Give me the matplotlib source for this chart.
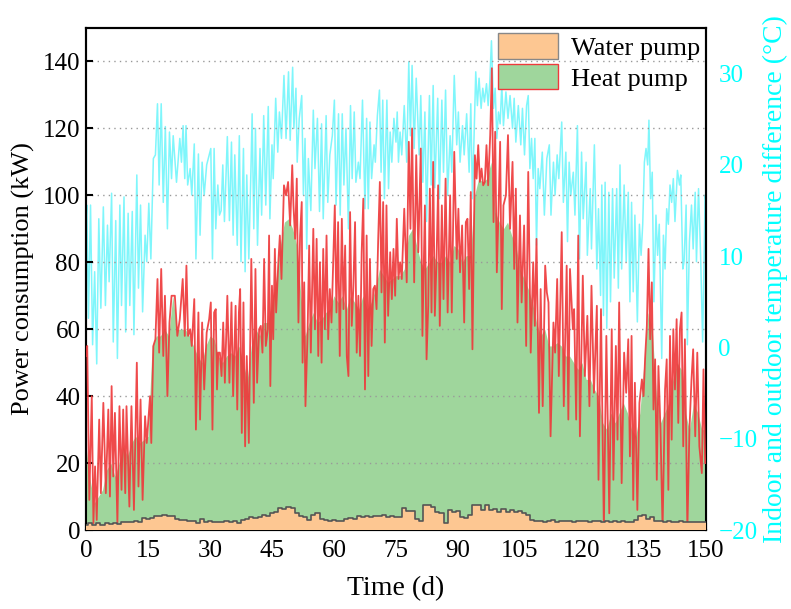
import matplotlib
matplotlib.use("Agg")
import matplotlib.pyplot as plt
import numpy as np
from matplotlib.patches import Patch

plt.rcParams['font.family'] = ['Liberation Serif', 'DejaVu Serif']
plt.rcParams['mathtext.fontset'] = 'stix'

# ---------------- data ----------------
# Heat pump power, line (day, kW)
hp_t = [0.0, 0.3, 0.8, 1.4, 1.8, 2.2, 2.6, 3.2, 3.6, 4.2, 4.8, 5.4, 5.8, 6.2, 6.6, 7.0, 7.6, 8.1, 8.6, 9.0,
        9.5, 9.8, 10.5, 11.0, 11.6, 12.3, 12.7, 13.2, 13.7, 14.3, 14.7, 15.5, 15.8, 16.3, 16.8, 17.3, 17.7, 18.2, 18.7, 19.1,
        19.7, 20.2, 20.7, 21.5, 22.1, 22.7, 23.4, 23.9, 24.3, 24.7, 25.2, 25.6, 26.2, 26.6, 27.2, 27.6, 28.1, 28.6, 29.2, 29.8,
        30.2, 30.6, 31.0, 31.4, 31.7, 32.0, 32.4, 32.8, 33.2, 33.6, 34.2, 34.7, 35.2, 35.6, 36.2, 36.6, 37.0, 37.3, 37.7, 38.1,
        38.5, 38.9, 39.4, 40.0, 40.6, 41.0, 41.4, 41.9, 42.3, 42.7, 43.1, 43.5, 44.0, 44.3, 44.6, 45.0, 45.3, 45.7, 46.0, 46.5,
        46.9, 47.3, 47.9, 48.4, 48.9, 49.4, 49.9, 50.2, 50.6, 51.0, 51.4, 51.8, 52.2, 52.4, 52.8, 53.1, 53.6, 54.0, 54.4, 55.0,
        55.4, 55.8, 56.2, 56.6, 57.0, 57.4, 57.8, 58.2, 58.6, 59.0, 59.4, 59.8, 60.2, 60.6, 61.0, 61.4, 61.9, 62.3, 62.7, 63.1,
        63.5, 63.9, 64.3, 64.7, 65.1, 65.5, 65.9, 66.3, 66.7, 67.1, 67.5, 67.9, 68.3, 68.7, 69.1, 69.5, 69.9, 70.3, 70.7, 71.1,
        71.5, 71.9, 72.3, 72.7, 73.1, 73.6, 74.0, 74.4, 74.8, 75.2, 75.6, 76.0, 76.4, 77.0, 77.6, 78.1, 78.5, 78.9, 79.4, 79.9,
        80.4, 81.0, 81.4, 82.0, 82.4, 82.8, 83.2, 83.6, 84.0, 84.4, 84.8, 85.2, 85.6, 86.1, 86.5, 87.0, 87.5, 88.1, 88.5, 89.1,
        89.7, 90.1, 90.5, 91.0, 91.5, 91.9, 92.3, 92.7, 93.1, 93.5, 94.1, 94.5, 94.9, 95.3, 95.7, 96.1, 96.5, 96.9, 97.3, 97.8,
        98.2, 98.6, 99.0, 99.4, 99.8, 100.2, 100.6, 101.0, 101.6, 102.1, 102.6, 103.2, 103.6, 104.0, 104.4, 105.0, 105.4, 106.0, 106.5, 107.0,
        107.6, 108.2, 108.6, 109.0, 109.6, 110.0, 110.5, 111.1, 111.5, 111.9, 112.4, 113.1, 113.5, 114.0, 114.4, 115.1, 115.6, 116.3, 116.7, 117.1,
        117.8, 118.1, 118.6, 119.1, 119.5, 120.2, 120.7, 121.3, 121.8, 122.3, 122.9, 123.6, 124.0, 124.6, 125.3, 125.9, 126.6, 127.2, 127.6, 128.2,
        128.6, 129.0, 129.6, 130.2, 130.7, 131.2, 131.6, 132.0, 132.4, 132.8, 133.4, 133.9, 134.5, 134.9, 135.3, 135.7, 136.1, 136.5, 136.9, 137.3,
        137.7, 138.1, 138.5, 139.0, 139.5, 140.1, 140.5, 140.9, 141.3, 141.7, 142.1, 142.5, 142.9, 143.3, 143.7, 144.1, 144.5, 144.9, 145.5, 146.0,
        146.5, 146.9, 147.4, 147.9, 148.4, 149.0, 149.4, 149.8, 150.0]
hp_kw = [52, 55, 9, 40, 2, 19, 3, 33, 11, 38, 11, 36, 10, 43, 16, 35, 2, 37, 12, 36,
         11, 37, 7, 37, 6, 50, 13, 39, 9, 34, 26, 40, 26, 55, 57, 75, 53, 78, 52, 70,
         40, 62, 70, 70, 58, 63, 75, 58, 79, 58, 60, 55, 69, 30, 65, 33, 62, 42, 59, 63,
         68, 30, 65, 66, 42, 53, 53, 46, 62, 44, 70, 44, 68, 40, 67, 36, 65, 72, 29, 68,
         25, 52, 26, 81, 38, 78, 44, 60, 61, 53, 81, 55, 60, 88, 43, 73, 57, 84, 65, 79,
         88, 75, 103, 100, 104, 91, 109, 97, 87, 105, 62, 88, 98, 50, 74, 37, 58, 85, 53, 90,
         60, 87, 52, 80, 50, 84, 60, 88, 57, 72, 62, 79, 97, 65, 92, 52, 93, 66, 85, 52,
         46, 95, 61, 73, 92, 53, 70, 52, 83, 99, 42, 88, 46, 81, 55, 72, 73, 66, 87, 104,
         71, 98, 56, 97, 64, 83, 69, 84, 70, 93, 75, 80, 75, 96, 74, 116, 90, 120, 74, 112,
         83, 114, 58, 97, 51, 67, 102, 65, 110, 64, 80, 103, 61, 97, 69, 105, 65, 100, 65, 113,
         81, 96, 77, 91, 62, 92, 93, 72, 101, 54, 112, 105, 115, 104, 108, 103, 104, 115, 103, 118,
         138, 92, 119, 77, 95, 116, 66, 97, 100, 118, 90, 110, 78, 102, 62, 94, 68, 91, 55, 107,
         53, 80, 61, 87, 35, 72, 37, 79, 71, 68, 28, 62, 53, 75, 46, 89, 37, 79, 33, 78,
         60, 66, 33, 88, 28, 76, 46, 64, 37, 73, 41, 67, 15, 66, 0, 58, 5, 60, 15, 55,
         27, 68, 14, 53, 41, 57, 22, 58, 9, 44, 6, 38, 45, 40, 52, 61, 84, 57, 74, 36,
         51, 15, 49, 30, 0, 42, 51, 12, 58, 27, 60, 42, 63, 32, 60, 65, 25, 57, 0, 30,
         45, 54, 28, 53, 25, 17, 48, 20, 20]

# Heat pump area (daily level, kW), days 0..150
fill_days = list(range(0, 151))
hp_fill = [25, 15, 8, 10, 12, 18, 20, 16, 20, 25, 22, 26, 28, 26, 27, 28,
           55, 58, 58, 60, 58, 70, 60, 60, 60, 58, 55, 52, 50, 55, 58, 57, 52, 50, 52, 53, 52, 55, 50, 45,
           55, 60, 58, 62, 62, 68, 75, 85, 92, 93, 90, 85, 70, 58, 62, 65, 62, 63, 65, 66,
           70, 68, 70, 66, 70, 68, 66, 70, 66, 68, 72, 78, 76, 74, 75, 76, 76, 78, 88, 90,
           85, 80, 78, 80, 82, 80, 80, 82, 80, 85, 84, 80, 82, 82, 100, 105, 104, 105, 110, 95,
           92, 90, 92, 88, 85, 78, 75, 72, 68, 62, 58, 60, 55, 55, 56, 55, 52, 52, 50, 48,
           50, 45, 45, 42, 40, 32, 30, 35, 32, 35, 38, 35, 30, 28, 35, 50, 65, 60, 40, 32,
           35, 38, 45, 50, 48, 35, 30, 38, 35, 30, 30]

# Water pump power (kW), days 0..150
wp_kw = [1.5, 2.0, 1.5, 2.0, 1.6, 2.2, 1.8, 2.2, 1.8, 2.3, 2.5, 2.3, 2.6, 2.4, 3.5, 3.4, 3.6, 4.2, 4.3, 4.4,
         4.3, 4.2, 3.2, 3.0, 3.0, 2.6, 2.8, 2.2, 3.3, 2.5, 2.6, 2.3, 2.5, 2.4, 2.6, 2.3, 2.8, 2.0, 2.9, 3.2,
         4.0, 3.5, 3.8, 4.5, 4.2, 5.2, 5.5, 6.5, 6.3, 6.8, 6.5, 5.0, 4.2, 3.8, 3.0, 4.5, 5.0, 3.2, 3.0, 2.8,
         3.0, 2.6, 2.8, 3.2, 3.6, 3.4, 4.2, 4.0, 4.3, 4.0, 4.3, 4.1, 4.4, 4.0, 4.2, 3.8, 4.0, 6.5, 5.8, 5.6,
         3.2, 2.8, 7.5, 7.5, 7.0, 5.5, 5.0, 2.0, 6.0, 5.5, 5.6, 4.0, 3.6, 4.5, 7.6, 7.4, 6.0, 7.5, 6.0, 6.3,
         5.5, 6.2, 5.4, 6.0, 5.3, 5.8, 5.0, 4.5, 3.0, 2.6, 2.8, 2.5, 2.6, 2.9, 2.5, 2.8, 2.6, 2.8, 2.5, 2.7,
         2.6, 2.8, 2.5, 2.6, 2.7, 2.4, 2.6, 2.5, 2.7, 2.5, 2.6, 2.3, 2.5, 3.0, 4.2, 4.5, 3.2, 4.0, 2.8, 2.6,
         2.5, 2.6, 2.5, 2.4, 2.6, 2.5, 2.4, 2.5, 2.4, 2.5, 2.5]

# Indoor-outdoor temperature difference (day, degC)
dt_t = [0.0, 0.2, 0.6, 1.1, 1.6, 2.1, 2.6, 3.1, 3.6, 4.2, 4.7, 5.2, 5.6, 6.2, 6.6, 7.2, 7.6, 8.2, 8.6, 9.2,
        9.6, 10.2, 10.6, 11.2, 11.6, 12.3, 12.7, 13.2, 13.7, 14.3, 14.7, 15.2, 15.7, 16.3, 16.8, 17.3, 17.7, 18.2, 18.7, 19.2,
        19.7, 20.2, 20.7, 21.1, 21.9, 22.7, 23.1, 23.5, 23.9, 24.2, 24.6, 25.2, 25.6, 26.2, 26.6, 27.2, 27.6, 28.1, 28.6, 29.2,
        29.8, 30.2, 30.6, 31.0, 31.4, 31.9, 32.3, 32.7, 33.1, 33.5, 34.2, 34.7, 35.2, 35.6, 36.0, 36.6, 37.1, 37.5, 38.1, 38.5,
        38.9, 39.4, 39.9, 40.2, 40.6, 41.0, 41.5, 42.1, 42.5, 43.0, 43.5, 44.1, 44.5, 45.0, 45.3, 45.9, 46.4, 46.8, 47.3, 47.9,
        48.4, 49.0, 49.4, 50.0, 50.3, 50.8, 51.1, 51.6, 52.2, 52.6, 53.0, 53.4, 53.8, 54.4, 55.0, 55.4, 56.0, 56.5, 57.0, 57.4,
        58.1, 58.5, 59.0, 59.6, 60.1, 60.5, 61.1, 61.5, 62.0, 62.4, 62.9, 63.5, 64.0, 64.4, 64.9, 65.3, 65.9, 66.3, 66.9, 67.5,
        67.9, 68.3, 68.7, 69.1, 69.7, 70.0, 70.5, 71.0, 71.4, 71.8, 72.2, 72.8, 73.2, 73.6, 74.0, 74.5, 75.0, 75.3, 75.6, 76.0,
        76.4, 77.0, 77.6, 78.1, 78.5, 78.9, 79.4, 79.9, 80.6, 81.0, 81.5, 82.0, 82.4, 83.1, 83.5, 84.0, 84.4, 85.1, 85.5, 86.1,
        86.5, 87.0, 87.5, 88.1, 88.5, 89.1, 89.7, 90.1, 90.5, 91.1, 91.5, 92.1, 92.7, 93.1, 93.5, 94.3, 94.7, 95.1, 95.6, 96.0,
        96.4, 96.9, 97.3, 97.7, 98.1, 98.6, 99.0, 99.4, 99.8, 100.2, 100.6, 101.0, 101.6, 102.1, 102.6, 103.2, 103.6, 104.0, 104.6, 105.2,
        105.6, 106.1, 106.6, 107.0, 107.4, 107.8, 108.2, 108.6, 109.0, 109.4, 109.8, 110.4, 110.9, 111.5, 112.1, 112.5, 113.1, 113.5, 114.0, 114.4,
        115.1, 115.5, 116.1, 116.5, 116.9, 117.3, 117.9, 118.3, 118.9, 119.4, 119.9, 120.3, 121.0, 121.3, 122.0, 122.3, 123.0, 123.6, 124.0, 124.5,
        124.8, 125.2, 125.6, 126.0, 126.5, 126.9, 127.4, 127.8, 128.4, 128.8, 129.2, 129.6, 130.2, 130.7, 131.2, 131.6, 132.0, 132.4, 132.8, 133.4,
        133.9, 134.3, 134.7, 135.1, 135.5, 135.9, 136.2, 136.6, 137.0, 137.4, 137.9, 138.3, 138.7, 139.3, 139.7, 140.1, 140.5, 140.9, 141.3, 141.7,
        142.1, 142.5, 143.1, 143.6, 143.9, 144.4, 144.7, 145.2, 145.5, 146.0, 146.5, 146.9, 147.4, 147.7, 148.2, 148.7, 149.2, 149.8, 150.0]
dt_c = [14, 15.6, 3.2, 15.6, 0.3, 8.3, -1.8, 14.1, 4.3, 15.4, 4.6, 13.4, 7.2, 16.9, 0.6, 13.9, -1.2, 15.6, 4.6, 16.5,
        1.7, 14.7, 4.6, 14.9, 1.4, 18.9, 6.5, 15.6, 3.9, 12.3, 9.4, 15.8, 9.7, 20.7, 21.1, 26.7, 17.8, 26.7, 15.9, 24.2,
        13.0, 23.6, 18.5, 23.2, 18.1, 22.9, 20.3, 24.3, 18.5, 24.3, 17.8, 19.6, 16.7, 22.3, 9.7, 21.2, 12.3, 20.3, 16.7, 20.0,
        21.1, 21.8, 9.7, 21.8, 13.0, 17.8, 14.5, 15.0, 20.0, 13.8, 23.1, 13.9, 22.5, 12.3, 21.1, 11.2, 23.2, 9.4, 21.8, 8.3,
        18.9, 9.7, 19.2, 25.6, 13.0, 24.0, 11.2, 21.8, 14.5, 25.4, 15.6, 26.4, 14.1, 22.2, 18.5, 27.3, 21.4, 25.8, 22.9, 29.8,
        22.9, 30.2, 22.7, 30.7, 24.0, 28.4, 20.3, 25.1, 27.6, 16.7, 22.9, 10.8, 20.7, 15.0, 26.0, 19.6, 25.1, 14.9, 24.5, 14.1,
        25.4, 15.9, 21.1, 23.2, 27.1, 15.6, 25.6, 14.5, 25.6, 17.8, 24.0, 13.0, 26.5, 18.5, 25.8, 18.1, 20.3, 18.5, 27.1, 15.2,
        25.1, 15.2, 24.7, 18.5, 22.2, 20.3, 25.4, 28.2, 19.2, 27.1, 16.3, 27.1, 17.4, 23.6, 20.3, 25.1, 22.5, 25.8, 20.3, 23.6,
        21.1, 26.5, 20.3, 31.3, 23.2, 30.9, 21.8, 29.5, 21.1, 27.6, 18.1, 25.8, 13.8, 27.6, 17.8, 28.7, 17.5, 27.3, 16.3, 27.1,
        19.2, 28.2, 16.7, 23.2, 19.2, 29.8, 22.2, 25.8, 20.3, 24.3, 21.1, 25.6, 19.2, 26.7, 16.3, 30.2, 26.5, 29.5, 26.2, 28.4,
        26.9, 28.9, 26.5, 29.1, 33.6, 26.2, 28.4, 22.9, 25.8, 24.5, 28.7, 24.3, 28.0, 25.1, 27.6, 24.0, 27.3, 22.5, 26.5, 22.2,
        26.2, 21.1, 26.5, 27.6, 19.6, 22.9, 18.5, 22.9, 11.2, 19.6, 17.4, 21.4, 14.5, 20.7, 22.2, 14.5, 20.3, 16.7, 21.1, 18.5,
        24.7, 15.9, 21.4, 11.6, 20.3, 16.7, 19.2, 14.5, 24.3, 9.7, 21.4, 14.1, 20.3, 10.1, 17.4, 10.8, 22.2, 8.6, 15.2, 5.7,
        17.8, 3.5, 18.1, 2.1, 17.0, 5.0, 17.4, 7.6, 17.4, 6.5, 20.0, 8.6, 17.8, 9.4, 17.0, 5.0, 15.9, 6.1, 14.5, 2.8,
        13.5, 10.1, 13.5, 20.3, 21.8, 20.0, 24.9, 16.3, 19.2, 5.0, 14.5, 10.1, 13.5, -1.2, 12.3, 8.6, 15.2, 13.5, 17.8, 15.9,
        18.5, 13.8, 19.4, 17.8, 18.9, 8.6, 9.4, 15.6, 0.3, 11.6, 15.6, 10.8, 17.0, 9.4, 17.4, 10.1, 0.6, 16.7, 16.0]

x_ticks = [0, 15, 30, 45, 60, 75, 90, 105, 120, 135, 150]
y_ticks = [0, 20, 40, 60, 80, 100, 120, 140]
y2_ticks = [-20, -10, 0, 10, 20, 30]

# ---------------- figure ----------------
fig = plt.figure(figsize=(7.91, 6.09), dpi=100)
ax = fig.add_axes([0.1087, 0.1297, 0.7838, 0.8243])
ax2 = ax.twinx()
ax.set_zorder(ax2.get_zorder() + 1)
ax.patch.set_visible(False)

green = '#9fd69c'
orange = '#fdc792'
red = '#ee3a3c'
cyan = '#7ff6fb'

ax2.plot(dt_t, dt_c, color=cyan, lw=1.1, zorder=2)

ax.fill_between(fill_days, 0, hp_fill, color=green, lw=0, zorder=2)
ax.plot(hp_t, hp_kw, color=red, lw=1.3, alpha=0.92, zorder=3)
ax.fill_between(fill_days, 0, wp_kw, step='mid', color=orange, lw=0, zorder=4)
ax.step(fill_days, wp_kw, where='mid', color='#555555', lw=1.2, zorder=5)

ax.set_xlim(0, 150)
ax.set_ylim(0, 150)
ax2.set_ylim(-20, 35)
ax.set_xticks(x_ticks)
ax.set_yticks(y_ticks)
ax2.set_yticks(y2_ticks)

ax.yaxis.grid(True, linestyle=(0, (1, 3)), color='#999999', lw=1.0, zorder=1)
ax.set_axisbelow(False)

for a in (ax, ax2):
    for s in a.spines.values():
        s.set_linewidth(1.5)
        s.set_color('black')

ax.tick_params(axis='both', direction='in', length=5, width=1.5, labelsize=18)
ax.tick_params(axis='x', pad=7)
ax.tick_params(axis='y', pad=4)
ax2.tick_params(axis='y', direction='in', length=0, width=0, labelsize=18,
                labelcolor='#00ffff', pad=9)

ax.set_xlabel('Time (d)', fontsize=20, labelpad=10)
ax.set_ylabel('Power consumption (kW)', fontsize=19, labelpad=6)
ax2.set_ylabel('Indoor and outdoor temperature difference (°C)', fontsize=20,
               color='#00ffff', labelpad=4)

handles = [Patch(facecolor=orange, edgecolor='#888888', lw=1.0, label='Water pump'),
           Patch(facecolor=green, edgecolor=red, lw=1.0, label='Heat pump')]
leg = ax.legend(handles=handles, loc='upper right', frameon=False, fontsize=19,
                handlelength=2.3, handleheight=1.1, labelspacing=0.15, borderaxespad=0.1,
                borderpad=0.1, handletextpad=0.5)
leg.set_zorder(10)

fig.savefig('out.png', dpi=100)
